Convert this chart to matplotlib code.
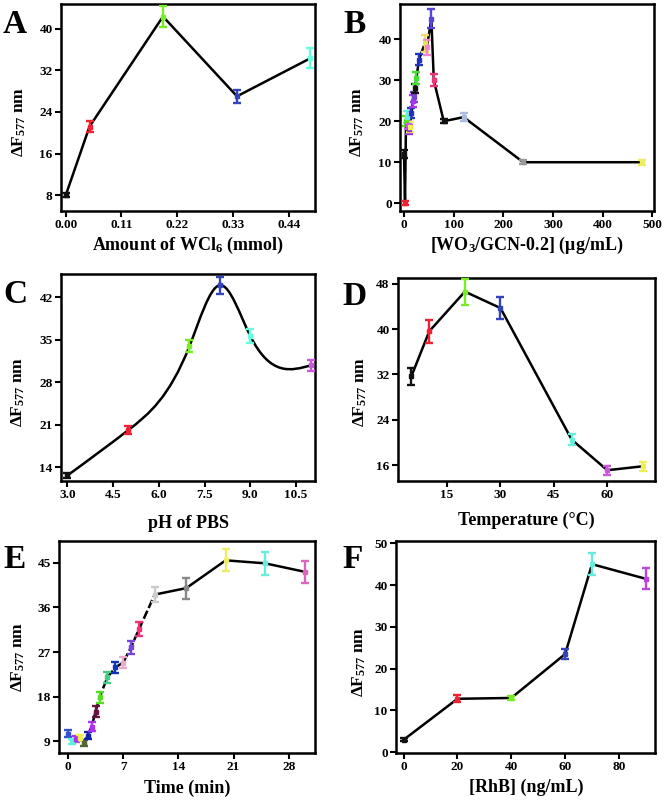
import numpy as np
import matplotlib
matplotlib.use("Agg")
import matplotlib.pyplot as plt
from matplotlib.path import Path
from matplotlib.patches import PathPatch
from matplotlib.ticker import FormatStrFormatter

plt.rcParams.update({
    "font.family": "Liberation Serif",
    "font.weight": "bold",
    "mathtext.fontset": "custom",
    "mathtext.rm": "Liberation Serif:bold",
    "mathtext.bf": "Liberation Serif:bold",
    "mathtext.it": "Liberation Serif:italic:bold",
    "axes.linewidth": 1.8,
})

# ---------------- data ----------------
# A
a_x = [0.0, 0.047, 0.192, 0.338, 0.483]
a_y = [8.0, 21.2, 42.3, 27.0, 34.3]
a_err = [0.4, 1.0, 2.0, 1.3, 1.9]
a_colors = ["#111111", "#ee2233", "#77ee22", "#3344bb", "#66ffdd"]

# B
b_x = [0, 2, 4, 6, 8, 10, 12, 15, 18, 20, 22, 25, 30, 42, 46, 55, 60, 80, 120, 240, 480]
b_y = [12, 0, 20, 21, 19, 18, 18.5, 22, 25, 26, 28, 30.5, 35, 39, 38, 45, 30, 20, 21, 10, 10]
b_err = [1.0, 0.5, 1.2, 1.5, 1.0, 1.0, 1.2, 1.2, 1.5, 1.2, 1.0, 1.5, 1.3, 2.0, 1.8, 2.3, 1.5, 0.5, 1.0, 0.5, 0.6]
b_colors = ["#111111", "#ee2233", "#55dd22", "#66eedd", "#cc55ee", "#9933dd", "#eeee55", "#2233bb",
            "#aa33ee", "#7744cc", "#111111", "#44dd33", "#2233bb", "#eedd66", "#ee88cc", "#5544dd",
            "#ee3377", "#111111", "#aabbdd", "#999999", "#eeee66"]

# C
c_x = [3.0, 5.0, 7.0, 8.0, 9.0, 11.0]
c_y = [12.6, 20.1, 33.9, 44.0, 35.6, 30.8]
c_err = [0.4, 0.7, 1.0, 1.4, 1.1, 0.9]
c_colors = ["#111111", "#ee2233", "#77ee22", "#3344bb", "#66ffdd", "#cc55dd"]

# D
d_x = [5, 10, 20, 30, 50, 60, 70]
d_y = [31.7, 39.6, 46.6, 43.7, 20.5, 15.1, 15.8]
d_err = [1.5, 2.0, 2.3, 2.0, 1.0, 0.8, 0.8]
d_colors = ["#111111", "#ee2233", "#77ee22", "#3344bb", "#66eedd", "#cc55dd", "#eeee55"]

# E
e_x = [0, 0.5, 1, 1.5, 2, 2.5, 3, 3.5, 4, 5, 6, 7, 8, 9, 11, 15, 20, 25, 30]
e_y = [10.5, 8.9, 9.5, 9.7, 8.7, 10.1, 12.0, 15.0, 17.9, 21.9, 23.9, 24.9, 28.0, 31.6, 38.6, 39.9, 45.5, 44.9, 43.2]
e_err = [0.7, 0.5, 0.6, 0.6, 0.6, 0.7, 0.9, 1.1, 1.1, 1.1, 1.1, 1.2, 1.3, 1.4, 1.5, 2.1, 2.2, 2.3, 2.2]
e_colors = ["#3355cc", "#66eedd", "#aa33ee", "#eeee55", "#556633", "#1122aa", "#aa33ee", "#661144",
            "#55dd22", "#44cc88", "#1133bb", "#eeaacc", "#7744dd", "#ee3377", "#cccccc", "#888888",
            "#eeee66", "#66eedd", "#dd66bb"]

# F
f_x = [0, 20, 40, 60, 70, 90]
f_y = [3.0, 12.8, 13.0, 23.5, 45.0, 41.5]
f_err = [0.3, 0.8, 0.5, 1.3, 2.7, 2.5]
f_colors = ["#111111", "#ee2233", "#77ee22", "#3344bb", "#66eedd", "#bb44dd"]

W, H = 664, 802
fig = plt.figure(figsize=(W / 100, H / 100), dpi=100)


def rect(l, r, t, b):
    return [l / W, 1 - b / H, (r - l) / W, (b - t) / H]


def setup(ax, xlim, ylim, xticks, yticks, xfmt=None):
    ax.set_xlim(*xlim)
    ax.set_ylim(*ylim)
    ax.set_xticks(xticks)
    ax.set_yticks(yticks)
    if xfmt:
        ax.xaxis.set_major_formatter(FormatStrFormatter(xfmt))
    ax.tick_params(direction="out", length=4, width=1.5, labelsize=9.5, pad=2,
                   top=False, right=False)
    for lab in ax.get_xticklabels() + ax.get_yticklabels():
        lab.set_fontweight("bold")


def points(ax, xs, ys, errs, cols):
    for x, y, e, c in zip(xs, ys, errs, cols):
        ax.errorbar([x], [y], yerr=[e], fmt="s", color=c, ms=3.4, capsize=2.8,
                    elinewidth=1.7, capthick=1.7, zorder=3)


def spline_path(xs, ys):
    x = np.asarray(xs, float)
    y = np.asarray(ys, float)
    n = len(x)
    h = np.diff(x)
    A = np.zeros((n, n))
    rhs = np.zeros(n)
    A[0, 0] = 1
    A[-1, -1] = 1
    for i in range(1, n - 1):
        A[i, i - 1] = h[i - 1]
        A[i, i] = 2 * (h[i - 1] + h[i])
        A[i, i + 1] = h[i]
        rhs[i] = 6 * ((y[i + 1] - y[i]) / h[i] - (y[i] - y[i - 1]) / h[i - 1])
    M = np.linalg.solve(A, rhs)
    verts = [(x[0], y[0])]
    codes = [Path.MOVETO]
    for i in range(n - 1):
        s = (y[i + 1] - y[i]) / h[i]
        d0 = s - h[i] * (2 * M[i] + M[i + 1]) / 6
        d1 = s + h[i] * (M[i] + 2 * M[i + 1]) / 6
        verts += [(x[i] + h[i] / 3, y[i] + d0 * h[i] / 3),
                  (x[i + 1] - h[i] / 3, y[i + 1] - d1 * h[i] / 3),
                  (x[i + 1], y[i + 1])]
        codes += [Path.CURVE4] * 3
    return Path(verts, codes)


def letter(x, y, s):
    fig.text(x / W, 1 - y / H, s, fontsize=24, fontweight="bold", ha="left", va="baseline")


def xlabel(cx, y, s):
    fig.text(cx / W, 1 - y / H, s, fontsize=13, fontweight="bold", ha="center", va="baseline")


def ylabel(x, cy):
    fig.text(x / W, 1 - cy / H, "ΔF$_{\\mathit{577}}$ nm", fontsize=12.5, fontweight="bold",
             rotation=90, ha="center", va="center")


LW = 1.8

# ---- A ----
ax = fig.add_axes(rect(61, 315, 4, 211))
ax.plot(a_x, a_y, color="black", lw=LW, zorder=2)
points(ax, a_x, a_y, a_err, a_colors)
setup(ax, (-0.0093, 0.492), (5.0, 44.7), [0, 0.11, 0.22, 0.33, 0.44], [8, 16, 24, 32, 40], "%.2f")
letter(3, 33, "A")
xlabel(188, 250, "Amount of WCl$_{\\mathbf{6}}$ (mmol)")
ylabel(19, 122)

# ---- B ----
ax = fig.add_axes(rect(400, 654, 4, 211))
ax.plot(b_x, b_y, color="black", lw=LW, zorder=2)
points(ax, b_x, b_y, b_err, b_colors)
setup(ax, (-8.1, 503.4), (-1.9, 48.6), [0, 100, 200, 300, 400, 500], [0, 10, 20, 30, 40])
letter(343, 33, "B")
xlabel(527, 250, "[WO$_{\\mathbf{3}}$/GCN-0.2] (μg/mL)")
ylabel(357, 122)

# ---- C ----
ax = fig.add_axes(rect(61, 315, 274, 481))
ax.add_patch(PathPatch(spline_path(c_x, c_y), fill=False, edgecolor="black", lw=LW, zorder=2))
points(ax, c_x, c_y, c_err, c_colors)
setup(ax, (2.79, 11.12), (11.69, 45.85), [3.0, 4.5, 6.0, 7.5, 9.0, 10.5], [14, 21, 28, 35, 42], "%.1f")
letter(3, 303, "C")
xlabel(188, 528, "pH of PBS")
ylabel(18, 392)

# ---- D ----
ax = fig.add_axes(rect(398, 655, 278, 481))
ax.plot(d_x, d_y, color="black", lw=LW, zorder=2)
points(ax, d_x, d_y, d_err, d_colors)
setup(ax, (1.22, 73.4), (13.2, 49.0), [15, 30, 45, 60], [16, 24, 32, 40, 48])
letter(342, 305, "D")
xlabel(526, 525, "Temperature (°C)")
ylabel(360, 392)

# ---- E ----
ax = fig.add_axes(rect(59, 315, 541, 753))
k = e_x.index(11)
ax.plot(e_x[:k + 1], e_y[:k + 1], color="black", lw=LW, ls=(0, (3.5, 1.2)), zorder=2)
ax.plot(e_x[k:], e_y[k:], color="black", lw=LW, zorder=2)
points(ax, e_x, e_y, e_err, e_colors)
setup(ax, (-1.14, 31.33), (6.66, 49.4), [0, 7, 14, 21, 28], [9, 18, 27, 36, 45])
letter(3, 568, "E")
xlabel(187, 793, "Time (min)")
ylabel(18, 657)

# ---- F ----
ax = fig.add_axes(rect(396, 655, 541, 753))
ax.plot(f_x, f_y, color="black", lw=LW, zorder=2)
points(ax, f_x, f_y, f_err, f_colors)
setup(ax, (-2.85, 93.4), (-0.17, 50.55), [0, 20, 40, 60, 80], [0, 10, 20, 30, 40, 50])
letter(342, 568, "F")
xlabel(526, 792, "[RhB] (ng/mL)")
ylabel(359, 662)

fig.savefig("out.png", dpi=100)
